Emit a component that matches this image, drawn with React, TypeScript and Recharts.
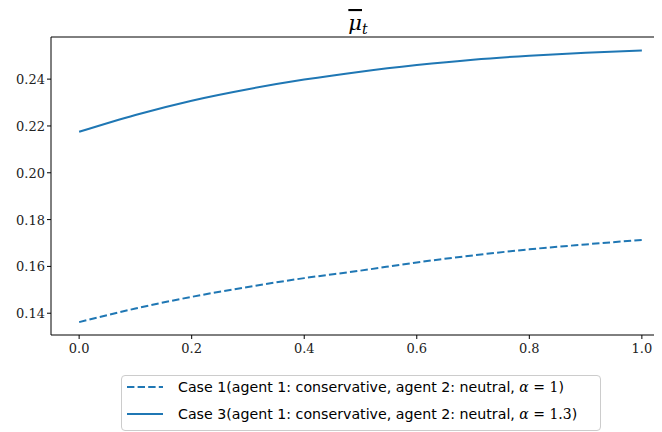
import React from 'react';
import { LineChart, Line, XAxis, YAxis, Legend, ReferenceLine } from 'recharts';

const tValues = [0, 0.1, 0.2, 0.3, 0.4, 0.5, 0.6, 0.7, 0.8, 0.9, 1.0];
const case1Values = [0.1362, 0.142, 0.147, 0.1512, 0.155, 0.1582, 0.1617, 0.1647, 0.1673, 0.1694, 0.1713];
const case3Values = [0.2175, 0.2247, 0.2308, 0.2357, 0.2398, 0.2432, 0.246, 0.2483, 0.25, 0.2513, 0.2522];
const xTicks = [0, 0.2, 0.4, 0.6, 0.8, 1.0];
const yTicks = [0.14, 0.16, 0.18, 0.2, 0.22, 0.24];
const case1Label = 'Case 1(agent 1: conservative, agent 2: neutral, ';
const case3Label = 'Case 3(agent 1: conservative, agent 2: neutral, ';

const data = tValues.map((t, i) => ({ t, case1: case1Values[i], case3: case3Values[i] }));

const BLUE = '#1f77b4';
const serif = "'DejaVu Serif', serif";
const sans = "'DejaVu Sans', sans-serif";

// serif tick labels, matplotlib usetex style
const renderXTick = (props: any) => {
    const { x, y, payload } = props;
    return (
        <text x={x} y={y + 12} textAnchor="middle" style={{ fontFamily: serif, fontSize: 13, fill: '#222' }}>
            {Number(payload.value).toFixed(1)}
        </text>
    );
};

const renderYTick = (props: any) => {
    const { x, y, payload } = props;
    return (
        <text x={x} y={y + 5} textAnchor="end" style={{ fontFamily: serif, fontSize: 13, fill: '#222' }}>
            {Number(payload.value).toFixed(2)}
        </text>
    );
};

function LegendBox() {
    const rows = [
        { dash: '7.4 3.2', label: case1Label, alpha: '1', h: 22 },
        { dash: undefined, label: case3Label, alpha: '1.3', h: 32 },
    ];
    return (
        <div
            style={{
                border: '1px solid #cccccc',
                borderRadius: 4,
                background: '#fff',
                padding: '0 0 0 5px',
                fontFamily: sans,
                fontSize: 14.2,
                color: '#000',
                boxSizing: 'border-box',
            }}
        >
            {rows.map((r, i) => (
                <div key={i} style={{ display: 'flex', alignItems: 'center', height: r.h }}>
                    <svg width={36} height={10} style={{ marginRight: 15, flexShrink: 0 }}>
                        <line x1={0} y1={5} x2={36} y2={5} stroke={BLUE} strokeWidth={2} strokeDasharray={r.dash} />
                    </svg>
                    <span style={{ whiteSpace: 'nowrap' }}>
                        {r.label}
                        <span style={{ fontFamily: serif, fontStyle: 'italic', fontSize: 14 }}>α</span>
                        <span style={{ fontFamily: serif, fontSize: 14 }}> = {r.alpha}</span>)
                    </span>
                </div>
            ))}
        </div>
    );
}

export default function App() {
    return (
        <div style={{ width: 654, height: 424, overflow: 'hidden', position: 'relative' }}>
            <LineChart
                width={670}
                height={424}
                data={data}
                margin={{ top: 29, right: 8, bottom: 72, left: 0 }}
            >
                <text x={350} y={22} textAnchor="middle" fontFamily={serif} fontSize={21} fontStyle="italic">
                    <tspan textDecoration="overline">μ</tspan>
                    <tspan fontSize={14} dy={4}>t</tspan>
                </text>
                <XAxis
                    dataKey="t"
                    type="number"
                    domain={[-0.05, 1.05]}
                    ticks={xTicks}
                    allowDataOverflow
                    height={25}
                    tick={renderXTick}
                    tickSize={4}
                    stroke="#000"
                />
                <YAxis
                    type="number"
                    domain={[0.1307, 0.258]}
                    ticks={yTicks}
                    allowDataOverflow
                    width={43}
                    tick={renderYTick}
                    tickSize={4}
                    stroke="#000"
                />
                <ReferenceLine y={0.258} stroke="#000" strokeWidth={1} ifOverflow="visible" />
                <Legend
                    layout="horizontal"
                    verticalAlign="middle"
                    align="center"
                    content={() => <LegendBox />}
                    wrapperStyle={{ left: 113, top: 367, width: 480 }}
                />
                <Line
                    dataKey="case1"
                    name="Case 1"
                    type="monotone"
                    stroke={BLUE}
                    strokeWidth={2}
                    strokeDasharray="7.4 3.2"
                    dot={false}
                    isAnimationActive={false}
                />
                <Line
                    dataKey="case3"
                    name="Case 3"
                    type="monotone"
                    stroke={BLUE}
                    strokeWidth={2}
                    dot={false}
                    isAnimationActive={false}
                />
            </LineChart>
        </div>
    );
}
